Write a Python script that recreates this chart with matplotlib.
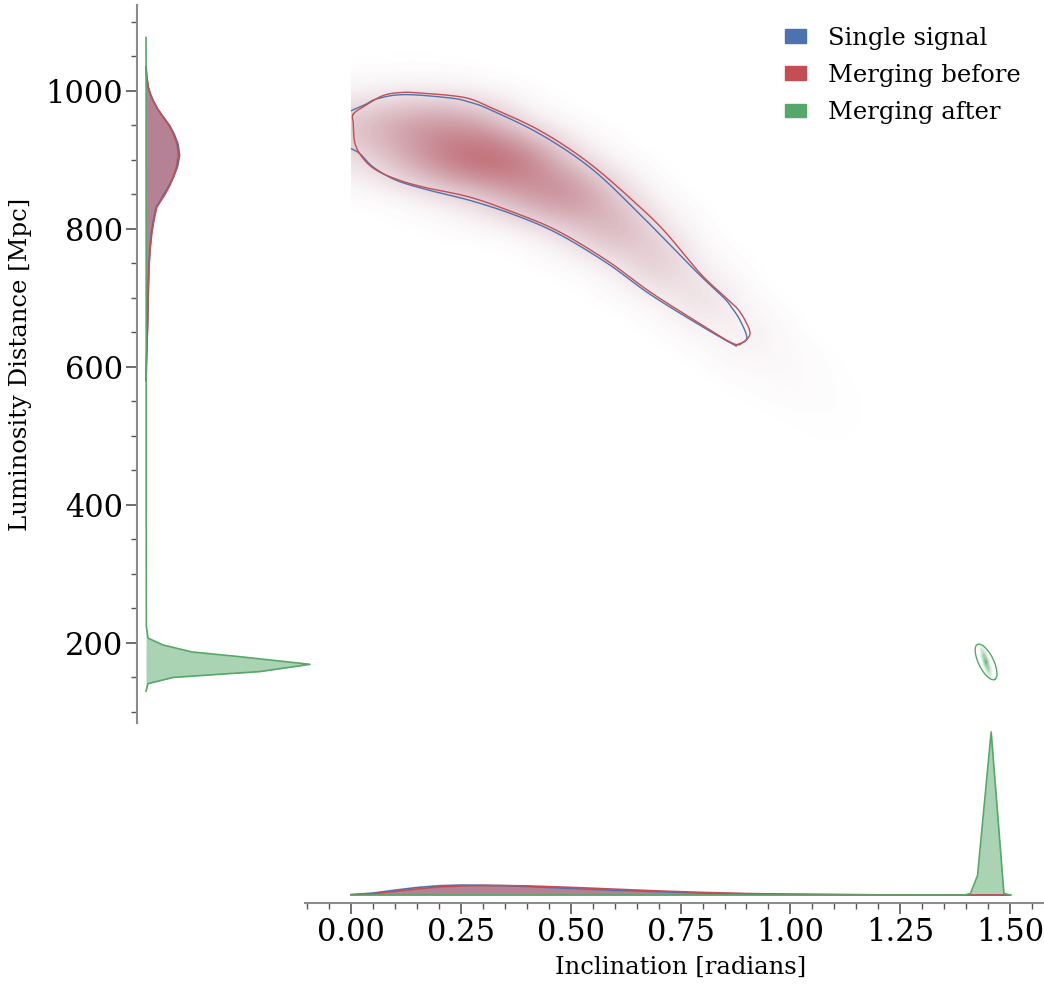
import numpy as np
import matplotlib
matplotlib.use("Agg")
import matplotlib.pyplot as plt
from matplotlib.colors import LinearSegmentedColormap, to_rgba
from matplotlib.patches import Patch, Rectangle

plt.rcParams['font.family'] = ['DejaVu Serif']

labels = ["Single signal", "Merging before", "Merging after"]
colors = ["#4C72B0", "#C44E52", "#55A868"]

### marginal of inclination (bottom) ###
inc_x = [0.0, 0.05, 0.1, 0.15, 0.2, 0.25, 0.3, 0.35, 0.4, 0.5, 0.6, 0.7,
         0.8, 0.9, 1.0, 1.1, 1.2, 1.3, 1.4, 1.5]
inc_single = [0.002, 0.012, 0.030, 0.046, 0.057, 0.061, 0.060, 0.057, 0.052, 0.040,
              0.029, 0.020, 0.012, 0.007, 0.004, 0.002, 0.001, 0.0005, 0.0002, 0.0]
inc_before = [0.002, 0.008, 0.022, 0.037, 0.049, 0.055, 0.058, 0.058, 0.056, 0.047,
              0.036, 0.025, 0.016, 0.009, 0.005, 0.003, 0.001, 0.0005, 0.0002, 0.0]
inc_after_x = [0.0, 1.0, 1.39, 1.40, 1.41, 1.426, 1.457, 1.486, 1.495, 1.502]
inc_after = [0.0, 0.0, 0.0, 0.002, 0.01, 0.12, 1.0, 0.01, 0.003, 0.0]

### marginal of luminosity distance (left) ###
dl_y = [580, 620, 660, 700, 744, 770, 793, 812, 831, 850, 862, 875, 890, 906,
        922, 937, 950, 961, 973, 985, 995, 1005, 1020, 1034]
dl_single = [0.0, 0.004, 0.009, 0.012, 0.017, 0.023, 0.032, 0.045, 0.062, 0.110, 0.140,
             0.168, 0.192, 0.205, 0.196, 0.172, 0.143, 0.108, 0.072, 0.044, 0.026,
             0.013, 0.004, 0.0]
dl_before = [0.0, 0.004, 0.010, 0.013, 0.018, 0.025, 0.035, 0.048, 0.065, 0.116, 0.143,
             0.167, 0.186, 0.197, 0.190, 0.167, 0.140, 0.106, 0.072, 0.045, 0.027,
             0.014, 0.005, 0.0]
dl_after_y = [130, 141, 150, 158.5, 169, 180, 187, 197, 207, 224, 400, 700, 1000, 1077]
dl_after = [0.0, 0.012, 0.165, 0.695, 1.0, 0.573, 0.278, 0.104, 0.012, 0.002,
            0.001, 0.001, 0.0005, 0.0]

### 2d density (single / before), coarse grid ###
grid_inc = [0.0, 0.1, 0.2, 0.3, 0.4, 0.5, 0.6, 0.7, 0.8, 0.9, 1.0, 1.1, 1.2]
grid_dl = [1050, 1000, 950, 900, 850, 800, 750, 700, 650, 600, 550, 500, 450]
density = [
    [0.00, 0.00, 0.00, 0.00, 0.00, 0.00, 0.00, 0.00, 0.00, 0.00, 0.00, 0.00, 0.00],
    [0.02, 0.03, 0.03, 0.012, 0.00, 0.00, 0.00, 0.00, 0.00, 0.00, 0.00, 0.00, 0.00],
    [0.29, 0.48, 0.58, 0.42, 0.069, 0.003, 0.00, 0.00, 0.00, 0.00, 0.00, 0.00, 0.00],
    [0.10, 0.29, 0.67, 0.97, 0.75, 0.17, 0.007, 0.00, 0.00, 0.00, 0.00, 0.00, 0.00],
    [0.001, 0.011, 0.068, 0.19, 0.51, 0.70, 0.22, 0.002, 0.00, 0.00, 0.00, 0.00, 0.00],
    [0.00, 0.00, 0.00, 0.003, 0.021, 0.17, 0.46, 0.126, 0.00, 0.00, 0.00, 0.00, 0.00],
    [0.00, 0.00, 0.00, 0.00, 0.00, 0.003, 0.059, 0.33, 0.027, 0.00, 0.00, 0.00, 0.00],
    [0.00, 0.00, 0.00, 0.00, 0.00, 0.00, 0.001, 0.035, 0.20, 0.009, 0.00, 0.00, 0.00],
    [0.00, 0.00, 0.00, 0.00, 0.00, 0.00, 0.00, 0.00, 0.027, 0.098, 0.002, 0.00, 0.00],
    [0.00, 0.00, 0.00, 0.00, 0.00, 0.00, 0.00, 0.00, 0.00, 0.02, 0.037, 0.002, 0.00],
    [0.00, 0.00, 0.00, 0.00, 0.00, 0.00, 0.00, 0.00, 0.00, 0.00, 0.011, 0.011, 0.00],
    [0.00, 0.00, 0.00, 0.00, 0.00, 0.00, 0.00, 0.00, 0.00, 0.00, 0.00, 0.007, 0.00],
    [0.00, 0.00, 0.00, 0.00, 0.00, 0.00, 0.00, 0.00, 0.00, 0.00, 0.00, 0.00, 0.00],
]
# merging after: small blob
after_inc = [1.430, 1.435, 1.440, 1.445, 1.450, 1.455, 1.460]
after_dl = [199, 190, 181, 172, 163, 154, 145]
after_density = [[0.0, 0.0, 0.0, 0.0, 0.0, 0.0, 0.0],
                 [0.0, 0.25, 0.15, 0.0, 0.0, 0.0, 0.0],
                 [0.0, 0.2, 0.55, 0.3, 0.0, 0.0, 0.0],
                 [0.0, 0.0, 0.35, 1.0, 0.35, 0.0, 0.0],
                 [0.0, 0.0, 0.0, 0.3, 0.55, 0.2, 0.0],
                 [0.0, 0.0, 0.0, 0.0, 0.15, 0.25, 0.0],
                 [0.0, 0.0, 0.0, 0.0, 0.0, 0.0, 0.0]]

### 90% contours ###
before_c_inc = [0.005, 0.032, 0.0735, 0.119, 0.165, 0.225, 0.271, 0.316, 0.430, 0.544,
                0.658, 0.7186, 0.7944, 0.855, 0.879, 0.897, 0.908, 0.893, 0.870,
                0.794, 0.681, 0.582, 0.468, 0.369, 0.271, 0.172, 0.1115, 0.0585,
                0.028, 0.009, 0.005]
before_c_dl = [966, 978, 993, 997.5, 996, 993, 988, 976, 942, 894,
               831, 792.7, 735.3, 698.9, 684.5, 667, 648, 635.9, 633.6,
               662.5, 708.2, 754.1, 797.5, 823.9, 845.6, 859.2, 869.8, 884.3,
               901.2, 922.9, 951.8]
single_c_inc = [0.001, 0.032, 0.0585, 0.119, 0.225, 0.271, 0.316, 0.430, 0.544, 0.6487,
                0.7869, 0.8467, 0.8627, 0.8854, 0.9007, 0.878, 0.8695, 0.7944, 0.6806,
                0.582, 0.468, 0.3694, 0.2709, 0.18, 0.104, 0.0508, 0.0205, 0.001]
single_c_dl = [971.1, 979.7, 988, 994.2, 989.4, 983.1, 972.5, 937.1, 888.6, 826.4,
               737.1, 701, 689, 667.3, 640.8, 632.1, 632.5, 660, 704.9,
               750.4, 793.8, 820.6, 840.9, 855.3, 869.8, 889, 908.4, 915.7]
after_c_inc = [1.4647, 1.4700, 1.4684, 1.4609, 1.4490, 1.4363, 1.4260, 1.4208,
               1.4224, 1.4301, 1.4417, 1.4545]
after_c_dl = [147.0, 152.8, 164.0, 177.3, 189.3, 196.8, 197.9, 192.2,
              181.0, 167.7, 155.7, 148.2]


def alpha_cmap(c):
    return LinearSegmentedColormap.from_list("a", [to_rgba(c, 0), to_rgba(c, 1)])


def smooth(x, y, closed=False, n=12):
    # catmull-rom through the traced points, only for drawing the outline
    p = np.column_stack([x, y]).astype(float)
    if closed:
        p = np.vstack([p[-1], p, p[0], p[1]])
    else:
        p = np.vstack([p[0], p, p[-1]])
    t = np.linspace(0, 1, n, endpoint=False)[:, None]
    out = []
    for i in range(1, len(p) - 2):
        p0, p1, p2, p3 = p[i - 1], p[i], p[i + 1], p[i + 2]
        out.append(0.5 * (2 * p1 + (-p0 + p2) * t + (2 * p0 - 5 * p1 + 4 * p2 - p3) * t ** 2
                          + (-p0 + 3 * p1 - 3 * p2 + p3) * t ** 3))
    out.append(p[-2][None, :])
    out = np.vstack(out)
    return out[:, 0], out[:, 1]


fig = plt.figure(figsize=(10.44, 9.85), dpi=100)
ax_main = fig.add_axes([0.29215, 0.26599, 0.70690, 0.72893])
ax_left = fig.add_axes([0.13123, 0.26599, 0.16762, 0.72893])
ax_bot = fig.add_axes([0.29215, 0.08325, 0.70690, 0.18274])

xlim = (-0.105, 1.575)
ylim = (84, 1124)

### main 2d panel ###
ext = [grid_inc[0] - 0.05, grid_inc[-1] + 0.05, grid_dl[-1] - 25, grid_dl[0] + 25]
dens = np.array(density)
clip = Rectangle((0.0, 0), 2.0, 2000, transform=ax_main.transData)
for c, a in [(colors[0], 0.45), (colors[1], 1.0)]:
    im = ax_main.imshow(dens, extent=ext, aspect='auto', cmap=alpha_cmap(c),
                        vmin=0, vmax=1 / a, interpolation='bicubic', origin='upper')
    im.set_clip_path(clip)
ext_a = [after_inc[0] - 0.0025, after_inc[-1] + 0.0025, after_dl[-1] - 4.5, after_dl[0] + 4.5]
ax_main.imshow(np.array(after_density), extent=ext_a, aspect='auto',
               cmap=alpha_cmap(colors[2]), vmin=0, vmax=0.85, interpolation='bilinear')
ax_main.plot(*smooth(single_c_inc, single_c_dl), c=colors[0], lw=1)
ax_main.plot(*smooth(before_c_inc, before_c_dl, closed=True), c=colors[1], lw=1)
ax_main.plot(*smooth(after_c_inc, after_c_dl, closed=True), c=colors[2], lw=1)
ax_main.set_xlim(xlim)
ax_main.set_ylim(ylim)
ax_main.set_axis_off()

### left marginal ###
for y, d, c in [(dl_y, dl_single, colors[0]), (dl_y, dl_before, colors[1]),
                (dl_after_y, dl_after, colors[2])]:
    ax_left.fill_betweenx(y, 0, d, color=c, alpha=0.5, lw=0)
    ax_left.plot(d, y, c=c, lw=1.2)
ax_left.set_xlim(-0.055, 1.012)
ax_left.set_ylim(ylim)
ax_left.patch.set_visible(False)
for s in ['top', 'right', 'bottom']:
    ax_left.spines[s].set_visible(False)
ax_left.set_xticks([])
ax_left.set_yticks([200, 400, 600, 800, 1000])
ax_left.set_yticks(np.arange(100, 1101, 50), minor=True)
ax_left.set_ylabel("Luminosity Distance [Mpc]", fontsize=17.5)
ax_left.yaxis.set_label_coords(-0.60, 0.5)

### bottom marginal ###
for x, d, c in [(inc_x, inc_single, colors[0]), (inc_x, inc_before, colors[1]),
                (inc_after_x, inc_after, colors[2])]:
    ax_bot.fill_between(x, 0, d, color=c, alpha=0.5, lw=0)
    ax_bot.plot(x, d, c=c, lw=1.2)
ax_bot.set_xlim(xlim)
ax_bot.set_ylim(-0.049, 1.055)
ax_bot.patch.set_visible(False)
for s in ['top', 'right', 'left']:
    ax_bot.spines[s].set_visible(False)
ax_bot.set_yticks([])
ax_bot.set_xticks([0.0, 0.25, 0.5, 0.75, 1.0, 1.25, 1.5])
ax_bot.set_xticklabels(["0.00", "0.25", "0.50", "0.75", "1.00", "1.25", "1.50"])
ax_bot.set_xticks(np.arange(-0.1, 1.56, 0.05), minor=True)
ax_bot.set_xlabel("Inclination [radians]", fontsize=17.5)
ax_bot.xaxis.set_label_coords(0.5095, -0.295)
ax_bot.xaxis.label.set_va('top')

for a in [ax_left, ax_bot]:
    for s in a.spines.values():
        s.set_color('#8c8c8c')
        s.set_linewidth(1.5)
    a.tick_params(which='major', length=8, width=1.2, color='#555555', labelsize=22, pad=2)
    a.tick_params(which='minor', length=4, width=1.0, color='#555555')

handles = [Patch(color=c) for c in colors]
ax_main.legend(handles, labels, loc='upper right', frameon=False, fontsize=17.5,
               bbox_to_anchor=(0.999, 1.0), handlelength=0.85, handleheight=0.5,
               handletextpad=0.9, labelspacing=0.58)

fig.savefig("out.png", dpi=100)
